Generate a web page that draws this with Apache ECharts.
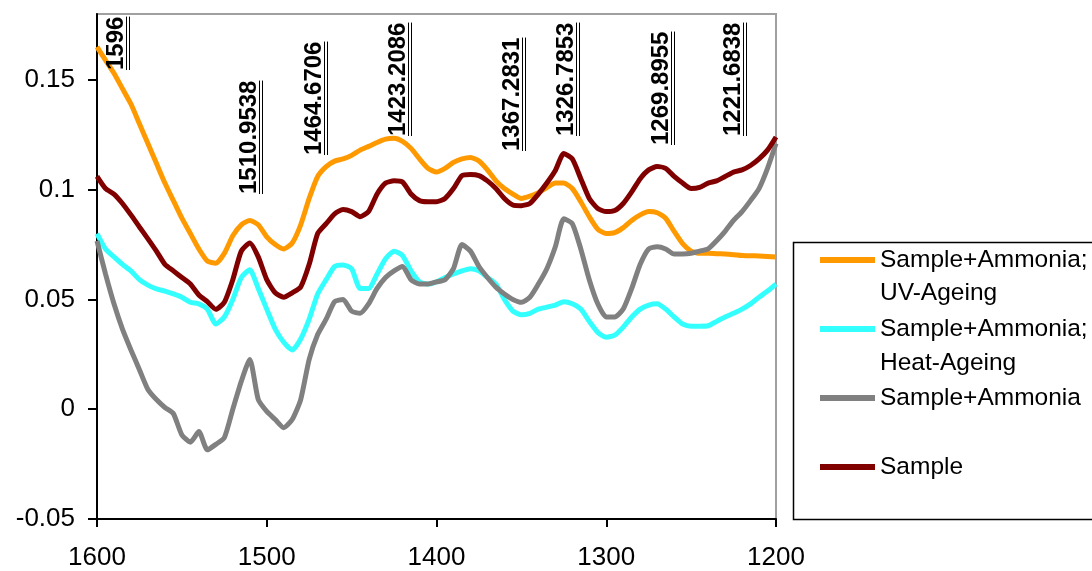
<!DOCTYPE html>
<html>
<head>
<meta charset="utf-8">
<script src="https://cdn.jsdelivr.net/npm/echarts@6/dist/echarts.min.js"></script>
<style>
html,body{margin:0;padding:0;background:#fff;}
#chart{width:1092px;height:571px;}
</style>
</head>
<body>
<div id="chart"></div>
<script>
// ---------- data ----------
const wavenumbers = [1600,1595,1590,1585,1580,1575,1570,1565,1560,1555,1550,1545,1540,1535,1530,1525,1520,1515,1510,1505,1500,1495,1490,1485,1480,1475,1470,1465,1460,1455,1450,1445,1440,1435,1430,1425,1420,1415,1410,1405,1400,1395,1390,1385,1380,1375,1370,1365,1360,1355,1350,1345,1340,1335,1330,1325,1320,1315,1310,1305,1300,1295,1290,1285,1280,1275,1270,1265,1260,1255,1250,1245,1240,1235,1230,1225,1220,1215,1210,1205,1200];

const uvAgeing = [0.165,0.159,0.153,0.146,0.139,0.130,0.121,0.112,0.103,0.095,0.087,0.080,0.073,0.0675,0.0665,0.071,0.079,0.084,0.086,0.084,0.0785,0.075,0.073,0.0757,0.084,0.096,0.106,0.1105,0.113,0.114,0.1156,0.118,0.1197,0.1215,0.123,0.1234,0.122,0.1188,0.114,0.1097,0.108,0.1097,0.1124,0.114,0.1147,0.113,0.109,0.104,0.1005,0.098,0.096,0.097,0.0986,0.101,0.103,0.103,0.1005,0.0945,0.0877,0.082,0.080,0.0804,0.0827,0.086,0.0885,0.090,0.0895,0.087,0.081,0.0754,0.072,0.071,0.071,0.0708,0.0707,0.0704,0.070,0.0699,0.0698,0.0696,0.0693];

const heatAgeing = [0.080,0.073,0.0694,0.066,0.063,0.059,0.0565,0.0548,0.0538,0.0525,0.051,0.0487,0.048,0.0456,0.0388,0.042,0.050,0.060,0.0635,0.055,0.0456,0.0365,0.0305,0.027,0.032,0.041,0.0525,0.059,0.065,0.0657,0.064,0.055,0.055,0.0616,0.0685,0.072,0.070,0.063,0.058,0.057,0.058,0.060,0.0616,0.063,0.064,0.063,0.060,0.057,0.050,0.0447,0.043,0.0437,0.0456,0.0465,0.0474,0.049,0.048,0.0456,0.040,0.035,0.0328,0.0337,0.0374,0.042,0.0456,0.0474,0.048,0.0456,0.042,0.0388,0.0378,0.0378,0.038,0.040,0.042,0.0437,0.0456,0.048,0.051,0.0538,0.057];

const ammonia = [0.0767,0.0616,0.048,0.0365,0.027,0.018,0.009,0.0044,0.0008,-0.002,-0.0117,-0.015,-0.0102,-0.0185,-0.016,-0.013,0,0.0127,0.0227,0.0044,-0.001,-0.0047,-0.0084,-0.0047,0.0044,0.0227,0.034,0.041,0.049,0.050,0.0447,0.0437,0.048,0.055,0.060,0.063,0.065,0.059,0.057,0.057,0.058,0.059,0.064,0.075,0.072,0.065,0.060,0.0556,0.0525,0.050,0.0487,0.051,0.057,0.064,0.074,0.0867,0.0845,0.073,0.059,0.048,0.042,0.042,0.0456,0.055,0.066,0.073,0.074,0.073,0.0707,0.0707,0.071,0.072,0.073,0.0767,0.081,0.086,0.090,0.095,0.1005,0.1097,0.121];

const sample = [0.106,0.1005,0.098,0.0937,0.0885,0.083,0.0776,0.072,0.066,0.063,0.060,0.057,0.052,0.049,0.0455,0.0487,0.059,0.072,0.0757,0.0694,0.059,0.053,0.051,0.053,0.0557,0.066,0.080,0.0845,0.089,0.091,0.090,0.0877,0.090,0.098,0.103,0.104,0.1035,0.098,0.095,0.0945,0.0945,0.096,0.1005,0.1064,0.1069,0.1064,0.104,0.1005,0.096,0.093,0.0927,0.0937,0.098,0.103,0.1087,0.1165,0.114,0.105,0.096,0.0914,0.090,0.0905,0.0937,0.099,0.105,0.109,0.1105,0.1097,0.106,0.103,0.1005,0.101,0.103,0.104,0.106,0.108,0.109,0.111,0.114,0.118,0.124];

const seriesNames = ['Sample+Ammonia; UV-Ageing','Sample+Ammonia; Heat-Ageing','Sample+Ammonia','Sample'];
const legendFirstLines = ['Sample+Ammonia;','Sample+Ammonia;','Sample+Ammonia','Sample'];
const legendSecondLines = ['UV-Ageing','Heat-Ageing','',''];

const xTicks = [1200,1300,1400,1500,1600];
const yTicks = [-0.05,0,0.05,0.1,0.15];

const peakLabels = ['1596','1510.9538','1464.6706','1423.2086','1367.2831','1326.7853','1269.8955','1221.6838'];

// ---------- layout / style ----------
const labelAnchorX = [1588.8,1510.5,1472.2,1422.7,1355.5,1323.7,1267.7,1225.3];
const labelAnchorY = [0.1545,0.0982,0.1156,0.1243,0.1174,0.1243,0.1202,0.1243];
const colors = ['#FF9900','#33FFFF','#808080','#800000'];
const FONT = '"Liberation Sans", Arial, Helvetica, sans-serif';
const labelFont = 'bold 24px ' + FONT;

const measureCtx = document.createElement('canvas').getContext('2d');
function textWidth(t){ measureCtx.font = labelFont; return measureCtx.measureText(t).width; }

const allSeries = [uvAgeing, heatAgeing, ammonia, sample];

const chart = echarts.init(document.getElementById('chart'), null, {renderer:'canvas'});

const option = {
  animation: false,
  backgroundColor: '#fff',
  grid: {
    left: 97, top: 14, right: 316, bottom: 52,
    show: true, borderColor: '#A0A0A0', borderWidth: 2,
    outerBoundsMode: 'none', containLabel: false
  },
  xAxis: {
    type: 'value', inverse: true, min: 1200, max: 1600, interval: 100,
    axisLine: {show: true, onZero: false, lineStyle: {color: '#000', width: 2}},
    axisTick: {show: true, length: 8, lineStyle: {color: '#000', width: 2}, customValues: xTicks},
    axisLabel: {color: '#000', fontSize: 26, fontFamily: FONT, margin: 26, customValues: xTicks,
      formatter: v => String(v), showMinLabel: true, showMaxLabel: true, hideOverlap: false},
    splitLine: {show: false}
  },
  yAxis: {
    type: 'value', min: -0.05, max: 0.18, interval: 0.05,
    axisLine: {show: true, onZero: false, lineStyle: {color: '#000', width: 2}},
    axisTick: {show: true, length: 9, lineStyle: {color: '#000', width: 2}, customValues: yTicks},
    axisLabel: {color: '#000', fontSize: 26, fontFamily: FONT, margin: 22, customValues: yTicks,
      formatter: v => String(Math.round(v*100)/100)},
    splitLine: {show: false}
  },
  legend: {
    orient: 'vertical', left: 820, top: 243.5, padding: 0, itemGap: 36,
    itemWidth: 55, itemHeight: 6, icon: 'rect', selectedMode: false, z: 10,
    data: seriesNames,
    formatter: name => legendFirstLines[seriesNames.indexOf(name)],
    textStyle: {color: '#000', fontSize: 24.5, fontFamily: FONT, lineHeight: 33}
  },
  graphic: [
    {type: 'rect', z: 1, shape: {x: 793.5, y: 242.5, width: 400, height: 277},
      style: {fill: '#fff', stroke: '#000', lineWidth: 1.5}},
    {type: 'text', z: 20, x: 880, y: 293, style: {text: legendSecondLines[0], font: '24.5px ' + FONT, fill: '#000', verticalAlign: 'middle'}},
    {type: 'text', z: 20, x: 880, y: 363, style: {text: legendSecondLines[1], font: '24.5px ' + FONT, fill: '#000', verticalAlign: 'middle'}}
  ],
  series: allSeries.map((vals, i) => ({
    name: seriesNames[i],
    type: 'line',
    color: colors[i],
    data: wavenumbers.map((w, k) => [w, vals[k]]),
    showSymbol: false,
    symbol: 'none',
    smooth: 0.2,
    lineStyle: {width: 5, color: colors[i]},
    z: 3 + i
  })).concat([{
    type: 'custom',
    name: 'peaks',
    z: 10,
    clip: false,
    data: labelAnchorX.map((x, i) => [x, labelAnchorY[i]]),
    renderItem: (params, api) => {
      const p = api.coord([api.value(0), api.value(1)]);
      const txt = peakLabels[params.dataIndex];
      const w = textWidth(txt);
      const x0 = Math.round(p[0]);
      const y0 = Math.round(p[1]);
      return {type: 'group', children: [
        {type: 'text', x: x0, y: y0, rotation: Math.PI/2,
          style: {text: txt, font: labelFont, fill: '#000', align: 'left', verticalAlign: 'middle'}},
        {type: 'line', shape: {x1: x0 + 10.5, y1: y0, x2: x0 + 10.5, y2: y0 - w}, style: {stroke: '#000', lineWidth: 1}},
        {type: 'line', shape: {x1: x0 + 13.5, y1: y0, x2: x0 + 13.5, y2: y0 - w}, style: {stroke: '#000', lineWidth: 1}}
      ]};
    }
  }])
};
chart.setOption(option);
</script>
</body>
</html>
